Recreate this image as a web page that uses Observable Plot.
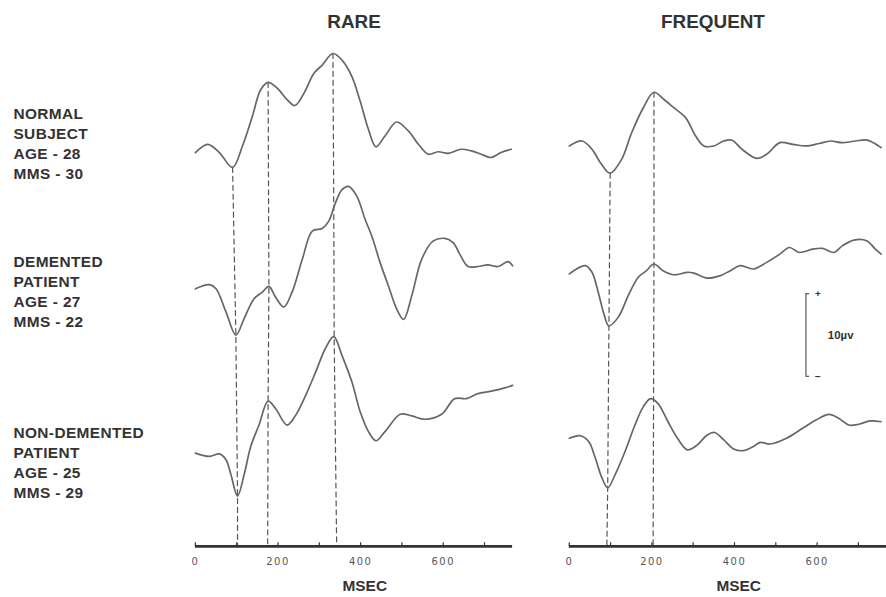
<!DOCTYPE html>
<html>
<head>
<meta charset="utf-8">
<script src="https://cdn.jsdelivr.net/npm/d3@7"></script>
<script src="https://cdn.jsdelivr.net/npm/@observablehq/plot@0.6"></script>
<style>
  html, body { margin: 0; padding: 0; background: #fff; overflow: hidden; }
  #chart { width: 886px; height: 597px; overflow: hidden; }
  #chart svg { overflow: visible; }
  #chart g[aria-label="x-axis tick label"] text { letter-spacing: 1.5px; fill: #555 !important; }
  #chart g.rowlabel text { letter-spacing: 0.4px; }
</style>
</head>
<body>
<div id="chart"></div>
<script>
// ---------- data ----------
const conditions = ["RARE", "FREQUENT"];
const subjects = ["normal", "demented", "nondemented"];
const subjectLabels = [
  "NORMAL\nSUBJECT\nAGE - 28\nMMS - 30",
  "DEMENTED\nPATIENT\nAGE - 27\nMMS - 22",
  "NON-DEMENTED\nPATIENT\nAGE - 25\nMMS - 29"
];
const subjectOffsets = [48.1, 31.2, 11.3];   // µV baseline of each stacked trace
const labelLevels = [48.9, 31.0, 10.3];

// RARE (target) condition, latency (ms) and amplitude (µV)
const rareNormalMs = [0,30,58,90,114,138,158,176,198,222,241,263,287,307,333,355,379,399,419,437,459,487,516,540,564,588,612,644,668,692,716,740,765];
const rareNormalUv = [-0.4,0.6,-0.4,-2.2,0.4,4.0,7.2,8.1,7.4,6.0,5.3,6.8,9.2,10.2,11.6,10.8,8.8,5.8,2.4,0.3,1.6,3.3,2.2,0.6,-0.6,-0.3,-0.5,0,-0.2,-0.6,-1.0,-0.4,0];
const rareDementedMs = [0,34,50,74,98,118,142,162,178,194,214,234,259,283,307,323,339,355,371,391,411,427,447,467,487,504,524,548,576,604,624,640,660,684,708,733,757,768];
const rareDementedUv = [0,0.5,0,-2.8,-5.6,-3.6,-1.2,-0.4,0.3,-1.0,-2.2,-0.4,3.6,7.0,7.3,8.2,10.4,12.0,12.4,11.2,8.4,6.4,3.2,0.4,-2.4,-3.7,-0.8,3.6,5.8,6.1,5.6,4.2,2.7,2.7,2.9,2.7,3.3,2.8];
const rareNondementedMs = [0,34,58,74,86,102,118,134,154,176,194,222,243,267,291,315,335,355,379,399,419,437,459,496,524,556,596,628,656,684,716,749,768];
const rareNondementedUv = [0,-0.4,-0.1,-0.8,-2.6,-5.2,-2.6,0.8,3.4,6.3,5.4,3.4,4.6,7.0,9.8,12.7,14.1,11.8,8.6,5.0,2.6,1.5,2.6,4.7,4.5,4.1,4.7,6.6,6.6,7.2,7.5,7.9,8.2];

// FREQUENT (standard) condition
const freqNormalMs = [0,31,55,75,99,127,151,179,205,230,254,282,306,326,350,374,394,418,454,478,510,541,573,605,633,661,693,721,755];
const freqNormalUv = [0.4,1.0,0,-1.6,-2.9,-1.2,2.0,5.0,6.9,6.0,5.0,3.8,1.6,0.4,0.4,1.0,1.1,0,-1.1,-0.6,0.8,0.6,0.4,0.7,1.0,0.8,1.0,1.1,0.2];
const freqDementedMs = [0,39,55,71,83,96,119,143,167,187,205,227,254,286,302,334,366,390,414,446,478,510,533,557,589,613,641,661,689,721,741,755];
const freqDementedUv = [1.8,2.8,2.0,-0.6,-2.9,-4.5,-3.4,-0.8,1.4,2.2,3.0,2.2,1.7,2.0,1.9,1.3,1.6,2.2,2.8,2.4,3.2,4.2,5.0,4.4,4.8,4.9,4.4,5.2,5.9,5.8,4.8,4.2];
const freqNondementedMs = [0,27,47,63,79,93,111,135,159,179,197,215,239,262,286,310,334,352,374,398,422,446,462,486,526,565,597,629,653,677,701,729,755];
const freqNondementedUv = [1.8,2.1,1.4,-0.6,-3.0,-4.2,-2.6,0.2,3.4,5.6,6.6,6.0,3.8,1.8,0.4,1.0,2.2,2.5,1.6,0.5,0.3,0.8,1.3,1.1,1.8,3.0,4.0,4.7,4.2,3.4,3.5,3.9,3.8];

// dashed latency guides: latency at normal, demented, non-demented trace, then at the axis
const guideRareN1 = [90, 98, 102, 102];
const guideRareP2 = [176, 178, 176, 175];
const guideRareP3 = [333, 335, 336, 342];
const guideFreqN1 = [99, 96, 93, 91];
const guideFreqP2 = [205, 205, 204, 203];

// axis
const xMax = 768;
const tickMs = [0, 100, 200, 300, 400, 500, 600, 700];
const tickLabels = [0, 200, 400, 600];
const axisLabel = "MSEC";
const axisLabelMs = 410;

// calibration bar
const calMs = 573;
const calFrom = 20.6;
const calUv = 10;
const calLabel = "10µv";

// ---------- build tables ----------
const traceSets = {
  RARE: [[rareNormalMs, rareNormalUv], [rareDementedMs, rareDementedUv], [rareNondementedMs, rareNondementedUv]],
  FREQUENT: [[freqNormalMs, freqNormalUv], [freqDementedMs, freqDementedUv], [freqNondementedMs, freqNondementedUv]]
};
const traces = [];
for (const cond of conditions) {
  traceSets[cond].forEach(([ms, uv], si) => {
    ms.forEach((t, i) => traces.push({cond, subject: subjects[si], ms: t, v: subjectOffsets[si] + uv[i]}));
  });
}
function valueAt(ms, uv, t) {
  for (let i = 1; i < ms.length; i++) {
    if (t <= ms[i]) {
      const f = (t - ms[i - 1]) / (ms[i] - ms[i - 1]);
      return uv[i - 1] + f * (uv[i] - uv[i - 1]);
    }
  }
  return uv[uv.length - 1];
}
const guides = [];
[["RARE", "n1", guideRareN1], ["RARE", "p2", guideRareP2], ["RARE", "p3", guideRareP3],
 ["FREQUENT", "n1", guideFreqN1], ["FREQUENT", "p2", guideFreqP2]].forEach(([cond, id, lat]) => {
  lat.forEach((t, k) => {
    const v = k < 3 ? subjectOffsets[k] + valueAt(traceSets[cond][k][0], traceSets[cond][k][1], t) : 0;
    guides.push({cond, id: cond + id, ms: t, v});
  });
});
const rowLabels = subjectLabels.map((text, i) => ({cond: "RARE", text, level: labelLevels[i]}));
const calEnds = [{cond: "FREQUENT", v: calFrom}, {cond: "FREQUENT", v: calFrom + calUv}];

const font = "'Liberation Sans', Arial, Helvetica, sans-serif";
const ink = "#333";

const chart = Plot.plot({
  width: 891,
  height: 597,
  marginLeft: 196,
  marginRight: 0,
  marginTop: 40,
  marginBottom: 48,
  style: {fontFamily: font, color: ink, background: "#fff", overflow: "visible"},
  fx: {domain: conditions, paddingInner: 0.1516, paddingOuter: 0, axis: null},
  x: {domain: [0, xMax], axis: null},
  y: {domain: [0, 61.3], axis: null},
  marks: [
    // latency guides
    Plot.line(guides, {x: "ms", y: "v", z: "id", fx: "cond", stroke: "#555", strokeWidth: 1.2, strokeDasharray: "5,4"}),
    // ERP traces
    Plot.line(traces, {x: "ms", y: "v", z: "subject", fx: "cond", stroke: "#666", strokeWidth: 1.7, curve: "catmull-rom"}),
    // time axis
    Plot.ruleY([0], {stroke: ink, strokeWidth: 2.6}),
    Plot.ruleX(tickMs, {y1: 0, y2: 0.45, stroke: ink, strokeWidth: 1.2}),
    Plot.axisX({ticks: tickLabels, tickSize: 0, tickPadding: 12, label: null, fontSize: 10, fontFamily: "'DejaVu Sans', sans-serif"}),
    Plot.text([axisLabel], {text: d => d, x: axisLabelMs, y: 0, dy: 40, fontSize: 15.5, fontWeight: "bold", fill: ink}),
    // panel titles
    Plot.text([{cond: "RARE"}], {fx: "cond", text: "cond", frameAnchor: "top", lineAnchor: "middle", dy: -18, fontSize: 19, fontWeight: "bold", fill: ink}),
    Plot.text([{cond: "FREQUENT"}], {fx: "cond", text: "cond", frameAnchor: "top", lineAnchor: "middle", dx: -15, dy: -18, fontSize: 19, fontWeight: "bold", fill: ink}),
    // row labels
    Plot.text(rowLabels, {fx: "cond", y: "level", text: "text", frameAnchor: "left", dx: -183, textAnchor: "start", lineHeight: 1.3, fontSize: 15.5, fontWeight: "bold", fill: ink, className: "rowlabel"}),
    // calibration bar
    Plot.ruleX([{cond: "FREQUENT"}], {fx: "cond", x: calMs, y1: calFrom, y2: calFrom + calUv, stroke: "#555", strokeWidth: 1.2}),
    Plot.ruleY(calEnds, {fx: "cond", y: "v", x1: calMs, x2: calMs + 9, stroke: "#555", strokeWidth: 1.2}),
    Plot.text([{cond: "FREQUENT", v: calFrom + calUv, t: "+"}, {cond: "FREQUENT", v: calFrom, t: "−"}], {fx: "cond", x: calMs + 29, y: "v", text: "t", fontSize: 10, fontWeight: "bold", fill: ink}),
    Plot.text([{cond: "FREQUENT", v: calFrom + calUv / 2, t: calLabel}], {fx: "cond", x: calMs + 53, y: "v", text: "t", textAnchor: "start", fontSize: 11.5, fontWeight: "bold", fill: ink})
  ]
});
document.getElementById("chart").appendChild(chart);
</script>
</body>
</html>
